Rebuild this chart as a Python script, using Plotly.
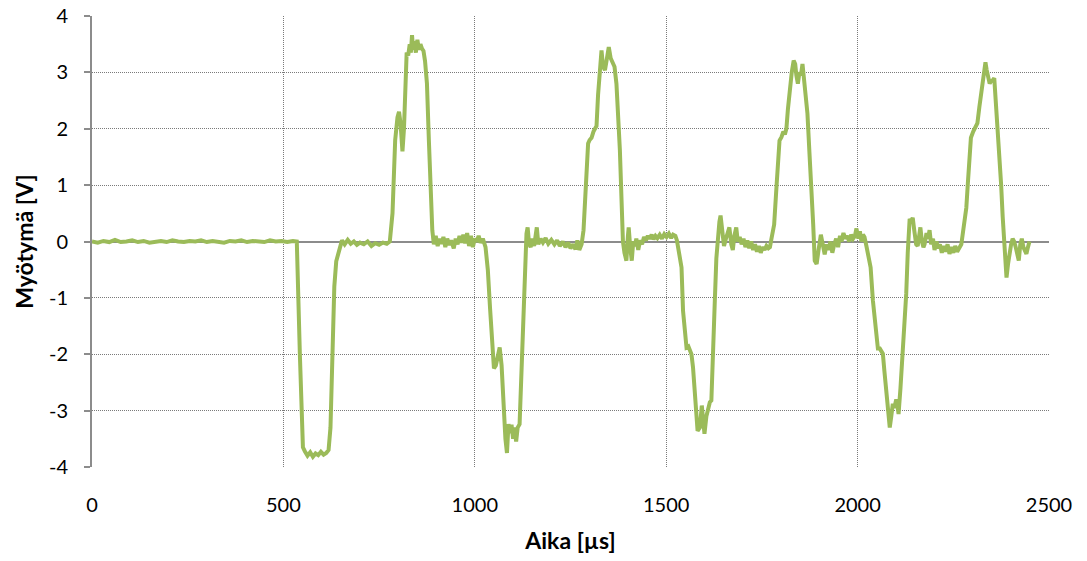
import plotly.graph_objects as go

# Time in microseconds
time_us = [
    0, 15, 30, 45, 60, 75, 90, 105, 120, 135, 150, 165, 180, 195, 210, 225, 240, 255, 270, 285,
    300, 315, 330, 345, 360, 375, 390, 405, 420, 435, 450, 465, 480, 495, 510, 525, 535,
    543, 551, 556, 563, 570, 577, 584, 591, 598, 605, 612, 618,
    623, 628, 633, 638, 645, 653, 660, 668, 676, 684, 692, 700, 710, 720, 730, 740, 750, 760, 770, 778,
    785, 792, 798, 802, 806, 811, 815, 819, 822, 826, 830, 833, 836, 839, 842, 846, 850, 854, 858, 862,
    866, 870, 875, 880, 884, 889, 893, 898, 903, 908, 913, 918, 923, 928, 933, 938, 945, 950, 955, 960,
    965, 970, 975, 980, 985, 990, 995, 1000, 1005, 1010, 1015, 1021,
    1028, 1034, 1040, 1046, 1050, 1055, 1060, 1065, 1070, 1075, 1080, 1084, 1088, 1092, 1096, 1100,
    1104, 1108, 1112, 1117, 1121, 1125, 1130, 1135, 1138, 1142, 1146, 1150, 1155, 1160, 1162, 1166,
    1172, 1178, 1185, 1192, 1200, 1208, 1215, 1222, 1230, 1237, 1244, 1250, 1257, 1263, 1268, 1273, 1279,
    1284, 1290, 1296, 1300, 1305, 1310, 1318, 1322, 1327, 1331, 1335, 1340, 1344, 1350, 1355, 1361,
    1365, 1370, 1375, 1379, 1383, 1387, 1391, 1396, 1400, 1402, 1406, 1410, 1414, 1418, 1422, 1427,
    1432, 1437, 1442, 1447, 1452, 1457, 1462, 1467, 1472, 1477, 1483, 1489, 1495, 1501, 1507, 1513,
    1518, 1524, 1528,
    1533, 1537, 1540, 1544, 1549, 1553, 1558, 1561, 1566, 1570, 1576, 1582, 1588, 1593, 1597, 1600,
    1605, 1609, 1614, 1618, 1622, 1627, 1631, 1635, 1639, 1642, 1646, 1651, 1656, 1661, 1665, 1670,
    1674, 1678, 1683, 1687, 1692, 1697, 1702, 1707, 1712, 1717, 1722, 1727, 1732, 1737, 1742, 1747,
    1752, 1757, 1762, 1767, 1771,
    1775, 1778, 1782, 1788, 1792, 1796, 1801, 1806, 1810, 1814, 1818, 1822, 1828, 1833, 1837, 1840,
    1844, 1848, 1852, 1856, 1860, 1865, 1869, 1874, 1879, 1884, 1888, 1893, 1898, 1904, 1909, 1914,
    1919, 1924, 1929, 1934, 1939, 1944, 1949, 1954, 1958, 1963, 1968, 1973, 1978, 1983, 1988, 1993,
    1997, 2002, 2006, 2010, 2014, 2018, 2023,
    2028, 2034, 2040, 2046, 2053, 2058, 2062, 2066, 2070, 2075, 2080, 2084, 2088, 2092, 2096, 2101,
    2104, 2107, 2112, 2118, 2122, 2127, 2131, 2136, 2140, 2144, 2148, 2153, 2157, 2161, 2164, 2168,
    2172, 2175, 2180, 2184, 2188, 2192, 2197, 2201, 2206, 2210, 2215, 2220, 2225, 2230, 2235, 2240,
    2245, 2250, 2255, 2260, 2266, 2271,
    2275, 2279, 2284, 2288, 2292, 2296, 2302, 2309, 2313, 2318, 2322, 2325, 2330, 2334, 2337, 2341,
    2345, 2349, 2353, 2357, 2361, 2366, 2370, 2375, 2379, 2384, 2389, 2393, 2397, 2401, 2405, 2409,
    2413, 2417, 2421, 2425, 2429, 2433, 2437, 2441, 2445, 2449,
]

# Response voltage in volts
voltage_v = [
    0.00, -0.02, 0.01, -0.01, 0.03, -0.01, 0.00, 0.02, -0.01, 0.01, -0.02, 0.00, 0.01, -0.01, 0.02, 0.00, -0.01, 0.01, 0.00, 0.02,
    -0.01, 0.01, 0.00, -0.02, 0.01, 0.00, 0.02, -0.01, 0.01, 0.00, -0.01, 0.02, 0.00, 0.01, -0.01, 0.01, 0.00,
    -2.0, -3.65, -3.72, -3.80, -3.74, -3.82, -3.76, -3.79, -3.73, -3.78, -3.75, -3.70,
    -3.3, -2.0, -0.8, -0.35, -0.2, 0.02, -0.05, 0.03, -0.04, 0.0, -0.06, -0.02, -0.05, 0.0, -0.08, -0.03, -0.06, -0.02, -0.04, 0.0,
    0.5, 1.8, 2.2, 2.3, 2.1, 1.6, 2.0, 3.2, 3.35, 3.3, 3.5, 3.35, 3.66, 3.4, 3.55, 3.35, 3.58, 3.4, 3.5, 3.42,
    3.38, 3.2, 2.8, 1.8, 0.9, 0.2, -0.05, 0.1, -0.08, 0.05, -0.04, 0.08, -0.1, 0.05, -0.06, 0.02, -0.12, 0.05, -0.05, 0.1,
    -0.02, 0.12, -0.03, 0.15, -0.08, 0.1, -0.1, 0.05, 0.0, 0.1, -0.02, 0.05,
    -0.1, -0.5, -1.2, -2.0, -2.25, -2.2, -2.0, -1.88, -2.2, -2.9, -3.5, -3.75, -3.24, -3.4, -3.25, -3.5,
    -3.3, -3.55, -3.3, -3.24, -2.5, -1.35, -0.4, 0.14, 0.25, -0.05, -0.1, 0.05, -0.08, 0.1, 0.25, -0.05,
    0.05, -0.02, 0.06, -0.04, 0.03, -0.05, 0.02, -0.08, 0.0, -0.1, -0.02, -0.12, -0.05, -0.14, 0.02, -0.15, -0.05,
    0.2, 0.9, 1.74, 1.8, 1.84, 1.95, 2.05, 2.6, 3.1, 3.39, 3.1, 3.04, 3.2, 3.45, 3.25, 3.18,
    3.1, 2.8, 2.2, 1.62, 0.8, 0.0, -0.2, -0.34, 0.1, 0.25, -0.1, -0.34, 0.0, -0.08, 0.05, -0.15,
    0.02, -0.05, 0.08, 0.02, 0.1, 0.05, 0.12, 0.04, 0.1, 0.06, 0.12, 0.05, 0.13, 0.08, 0.14, 0.06,
    0.12, 0.1, 0.02,
    -0.15, -0.3, -0.46, -1.23, -1.6, -1.88, -1.86, -1.9, -2.0, -2.23, -2.9, -3.36, -3.3, -2.91, -3.2, -3.41,
    -3.1, -2.95, -2.85, -2.82, -2.2, -1.05, -0.3, 0.14, 0.35, 0.46, 0.2, -0.08, 0.05, 0.15, 0.25, -0.05,
    -0.15, 0.1, 0.25, 0.0, 0.08, -0.05, 0.05, -0.1, 0.02, -0.12, 0.0, -0.15, -0.05, -0.18, -0.08, -0.2,
    -0.1, -0.15, -0.08, -0.12, -0.1,
    0.05, 0.2, 0.3, 0.96, 1.5, 1.79, 1.85, 1.95, 1.9, 2.0, 2.35, 2.68, 3.0, 3.21, 3.15, 2.95,
    2.8, 3.0, 2.95, 3.15, 2.9, 2.6, 2.27, 1.6, 1.03, 0.3, -0.34, -0.4, -0.15, 0.12, -0.05, -0.23,
    -0.05, -0.15, 0.0, -0.2, -0.05, 0.05, -0.1, 0.1, 0.0, 0.15, 0.05, 0.1, 0.0, 0.12, 0.05, 0.1,
    0.23, 0.05, 0.18, 0.0, 0.12, 0.08, -0.08,
    -0.25, -0.46, -1.05, -1.5, -1.9, -1.9, -1.95, -1.99, -2.3, -2.68, -3.0, -3.3, -3.1, -2.88, -2.95, -2.8,
    -2.9, -3.06, -2.6, -1.99, -1.5, -0.93, -0.2, 0.4, 0.35, 0.42, 0.2, -0.05, -0.08, 0.1, 0.25, 0.0,
    -0.1, -0.05, 0.15, 0.05, 0.2, -0.05, 0.05, -0.15, 0.0, -0.12, -0.05, -0.2, -0.08, -0.18, -0.05, -0.22,
    -0.1, -0.2, -0.08, -0.18, -0.12, -0.05,
    0.15, 0.37, 0.6, 1.03, 1.5, 1.84, 1.95, 2.04, 2.1, 2.38, 2.6, 2.8, 3.05, 3.18, 3.05, 2.9,
    2.8, 2.85, 2.86, 2.9, 2.5, 2.0, 1.62, 1.0, 0.44, -0.1, -0.64, -0.4, -0.2, -0.05, 0.05, 0.0,
    -0.1, -0.2, -0.34, -0.05, 0.05, -0.1, -0.15, -0.22, -0.1, 0.0,
]

x_ticks = [0, 500, 1000, 1500, 2000, 2500]
y_ticks = [-4, -3, -2, -1, 0, 1, 2, 3, 4]

FONT = "Lato"
GRID = "#7a7a7a"

fig = go.Figure()
fig.add_trace(go.Scatter(
    x=time_us, y=voltage_v, mode="lines",
    line=dict(color="#9BBB59", width=4),
    showlegend=False,
))

fig.update_layout(
    width=1087, height=561,
    margin=dict(l=92, r=38, t=16, b=94),
    paper_bgcolor="white", plot_bgcolor="white",
    font=dict(family=FONT, size=20, color="#000000"),
)
fig.update_xaxes(
    range=[0, 2500], tickvals=x_ticks, ticktext=[str(v) for v in x_ticks],
    showgrid=True, gridcolor=GRID, griddash="1px,1px", gridwidth=1,
    zeroline=False, showline=False, ticks="",
    ticklabelstandoff=24, automargin=False,
    title=dict(text="<b>Aika [µs]</b>", font=dict(family=FONT, size=23), standoff=17),
)
fig.update_yaxes(
    range=[-4, 4], tickvals=y_ticks, ticktext=[str(v) for v in y_ticks],
    showgrid=True, gridcolor=GRID, griddash="1px,1px", gridwidth=1,
    zeroline=True, zerolinecolor="#8c8c8c", zerolinewidth=2,
    showline=True, linecolor="#8c8c8c", linewidth=2,
    ticks="outside", ticklen=6, tickcolor="#8c8c8c", tickwidth=2,
    ticklabelstandoff=12, automargin=False,
    title=dict(text="<b>Myötymä [V]</b>", font=dict(family=FONT, size=23), standoff=9),
)

fig.write_html("out.html")
